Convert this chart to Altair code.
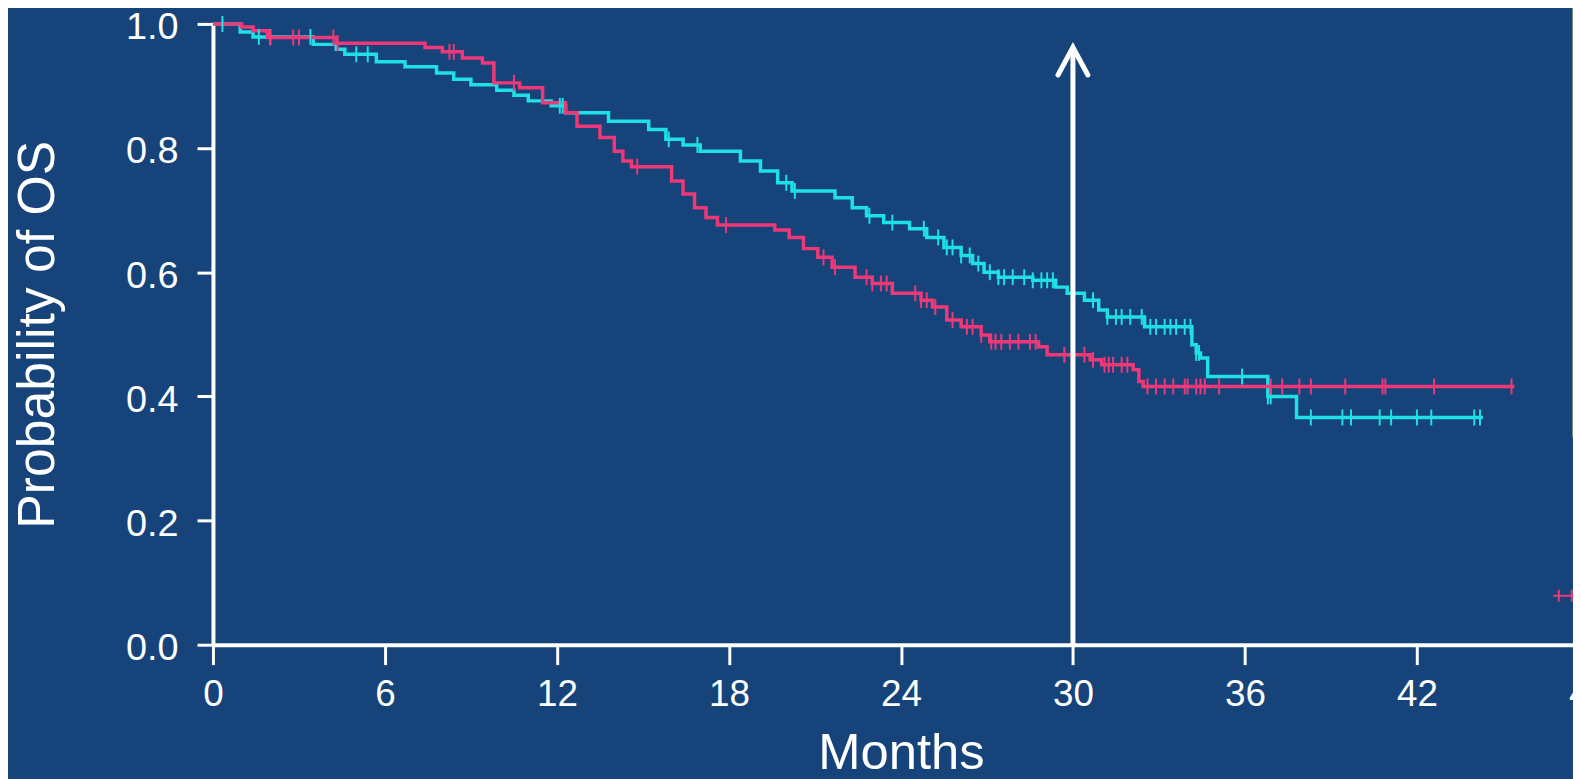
import altair as alt
import numpy as np
import pandas as pd

# ---- data ----
cyan_t = [0, 0.95, 1.4, 3.5, 4.3, 4.6, 5.7, 6.7, 7.8, 8.4,
          9.0, 9.9, 10.5, 11.0, 11.8, 12.3, 13.8, 15.2, 15.8, 16.4,
          17.0, 18.4, 19.1, 19.7, 20.2, 21.7, 22.3, 22.8, 23.4, 24.3,
          24.9, 25.5, 26.1, 26.5, 26.9, 27.4, 28.6, 29.4, 29.8, 30.4,
          30.9, 31.2, 32.5, 34.15, 34.3, 34.45, 34.7, 36.8, 37.8, 44.3]
cyan_s = [1.0, 0.987, 0.979, 0.967, 0.959, 0.951, 0.939, 0.931, 0.921, 0.911,
          0.902, 0.893, 0.885, 0.876, 0.868, 0.857, 0.843, 0.830, 0.814, 0.805,
          0.795, 0.779, 0.763, 0.744, 0.731, 0.720, 0.704, 0.691, 0.680, 0.670,
          0.656, 0.640, 0.627, 0.614, 0.600, 0.592, 0.587, 0.576, 0.566, 0.555,
          0.539, 0.528, 0.512, 0.483, 0.470, 0.462, 0.432, 0.400, 0.366, 0.366]
cyan_cens = [0.33, 1.6, 2.0, 3.4, 5.0, 5.4, 12.1, 12.2, 15.9, 16.9, 20.0, 20.3,
             22.9, 23.7, 24.8, 25.3, 25.6, 25.8, 26.1, 26.4, 26.7, 27.1, 27.4,
             27.6, 27.9, 28.3, 28.6, 28.9, 29.1, 29.3, 30.7, 31.2, 31.5, 31.7,
             32.0, 32.4, 32.7, 32.9, 33.2, 33.4, 33.6, 33.9, 34.1, 34.3, 34.4,
             35.9, 36.8, 36.9, 38.3, 39.4, 39.7, 40.7, 41.1, 42.0, 42.5, 44.0, 44.2]

pink_t = [0, 1.0, 1.4, 1.9, 4.3, 7.4, 8.0, 8.7, 9.4, 9.8,
          10.7, 11.5, 12.3, 12.7, 13.5, 14.0, 14.3, 14.6, 16.0, 16.4,
          16.8, 17.2, 17.6, 19.6, 20.1, 20.6, 21.1, 21.6, 22.4, 23.0,
          23.7, 24.7, 25.1, 25.6, 26.1, 26.8, 27.1, 28.8, 29.1, 30.6,
          31.0, 32.1, 32.3, 32.45, 45.4]
pink_s = [1.0, 0.995, 0.989, 0.978, 0.969, 0.962, 0.955, 0.945, 0.937, 0.905,
          0.897, 0.873, 0.857, 0.835, 0.817, 0.795, 0.779, 0.770, 0.747, 0.726,
          0.704, 0.688, 0.676, 0.668, 0.656, 0.638, 0.624, 0.608, 0.592, 0.582,
          0.566, 0.555, 0.544, 0.523, 0.512, 0.499, 0.488, 0.480, 0.467, 0.459,
          0.451, 0.443, 0.424, 0.416, 0.416]
pink_cens = [2.0, 2.8, 3.0, 4.2, 4.35, 8.25, 8.4, 10.5, 14.8, 17.9, 21.3, 21.7,
             22.8, 23.0, 23.3, 23.5, 24.5, 24.7, 24.9, 25.2, 25.8, 26.3, 26.5,
             26.8, 27.15, 27.3, 27.5, 27.8, 28.1, 28.5, 28.7, 29.7, 30.4, 30.7,
             31.1, 31.25, 31.4, 31.7, 31.9, 32.6, 32.9, 33.2, 33.5, 33.9, 34.0,
             34.3, 34.45, 34.6, 35.1, 36.9, 37.3, 37.9, 38.3, 39.5, 40.8, 40.9,
             42.6, 45.3]

x_ticks = [0, 6, 12, 18, 24, 30, 36, 42, 48]
y_ticks = [0.0, 0.2, 0.4, 0.6, 0.8, 1.0]
arrow_month = [30]
arrow_top = [0.955]
arrow_head = [0.94]
legend_box = {"x": [47.45], "x2": [50.0], "y": [0.335], "y2": [1.2]}
legend_line_x = [46.75, 48.6]
legend_line_y = [0.079, 0.079]
legend_cens = [46.95, 47.4]

BG = "#15437a"
CYAN = "#1fe0e4"
PINK = "#ee3877"
FONT = "Liberation Sans"

# ---- tables ----
curves = pd.concat([
    pd.DataFrame({"month": cyan_t, "surv": cyan_s, "arm": "A"}),
    pd.DataFrame({"month": pink_t, "surv": pink_s, "arm": "B"}),
], ignore_index=True)


def surv_at(ts, ss, cens):
    ts = np.asarray(ts)
    idx = np.searchsorted(ts, np.asarray(cens), side="right") - 1
    return [ss[i] for i in idx]


cens = pd.concat([
    pd.DataFrame({"month": cyan_cens, "surv": surv_at(cyan_t, cyan_s, cyan_cens), "arm": "A"}),
    pd.DataFrame({"month": pink_cens, "surv": surv_at(pink_t, pink_s, pink_cens), "arm": "B"}),
], ignore_index=True)

x_scale = alt.Scale(domain=[0, 48], nice=False, zero=False)
y_scale = alt.Scale(domain=[0, 1], nice=False)
color_scale = alt.Scale(domain=["A", "B"], range=[CYAN, PINK])

x_axis = alt.Axis(
    values=x_ticks, title="Months", grid=False,
    domainColor="white", domainWidth=4, tickColor="white", tickWidth=3, tickSize=20,
    labelColor="white", labelFont=FONT, labelFontSize=37, labelBaseline="alphabetic",
    labelPadding=41, labelFlush=False, labelOverlap=False,
    titleColor="white", titleFont=FONT, titleFontSize=51, titleFontWeight="normal",
    titleBaseline="alphabetic", titleY=124,
)
y_axis = alt.Axis(
    values=y_ticks, format=".1f", title="Probability of OS", grid=False,
    domainColor="white", domainWidth=4, tickColor="white", tickWidth=3, tickSize=16,
    labelColor="white", labelFont=FONT, labelFontSize=38, labelPadding=19, labelOffset=4,
    labelFlush=False, labelOverlap=False,
    titleColor="white", titleFont=FONT, titleFontSize=52, titleFontWeight="normal",
    titleAngle=270, titleBaseline="alphabetic", titleAlign="center", titleX=-160, titleY=312,
)

X = alt.X("month:Q", scale=x_scale, axis=x_axis)
Y = alt.Y("surv:Q", scale=y_scale, axis=y_axis)

lines = alt.Chart(curves).mark_line(interpolate="step-after", strokeWidth=3.5).encode(
    x=X, y=Y,
    color=alt.Color("arm:N", scale=color_scale, legend=None),
    order="month:Q",
)

ticks = alt.Chart(cens).mark_tick(orient="vertical", size=16, thickness=2, opacity=1).encode(
    x=X, y=Y, color=alt.Color("arm:N", scale=color_scale, legend=None),
)

arrow_df = pd.DataFrame({"month": arrow_month, "top": arrow_top, "head": arrow_head})
shaft = alt.Chart(arrow_df).mark_rule(color="white", strokeWidth=5).encode(
    x=X, y=alt.Y("zero:Q", scale=y_scale, axis=y_axis), y2=alt.Y2("top:Q"),
).transform_calculate(zero="0")
head = alt.Chart(arrow_df).mark_point(
    shape="M-1,0.93L0,-0.93L1,0.93", size=900, filled=False,
    stroke="white", strokeWidth=5, opacity=1, strokeJoin="miter", strokeCap="round",
).encode(x=X, y=alt.Y("head:Q", scale=y_scale, axis=y_axis))

box = alt.Chart(pd.DataFrame(legend_box)).mark_rect(
    fillOpacity=0, stroke="#b9c47a", strokeWidth=1.5
).encode(
    x=alt.X("x:Q", scale=x_scale, axis=x_axis), x2="x2:Q",
    y=alt.Y("y:Q", scale=y_scale, axis=y_axis), y2="y2:Q",
)

leg_line = alt.Chart(pd.DataFrame({"month": legend_line_x, "surv": legend_line_y})).mark_line(
    color=PINK, strokeWidth=2
).encode(x=X, y=Y)
leg_ticks = alt.Chart(pd.DataFrame({"month": legend_cens, "surv": [legend_line_y[0]] * len(legend_cens)})).mark_tick(
    orient="vertical", size=12, thickness=2, color=PINK, opacity=1
).encode(x=X, y=Y)

chart = alt.layer(box, leg_line, leg_ticks, lines, ticks, shaft, head).properties(
    width=1383, height=624,
    autosize=alt.AutoSizeParams(type="none"),
    padding={"left": 206, "top": 14, "right": -16, "bottom": 133},
    background=BG,
).configure_view(stroke=None)

chart.save("out.html", embed_options={"renderer": "svg", "actions": False})
